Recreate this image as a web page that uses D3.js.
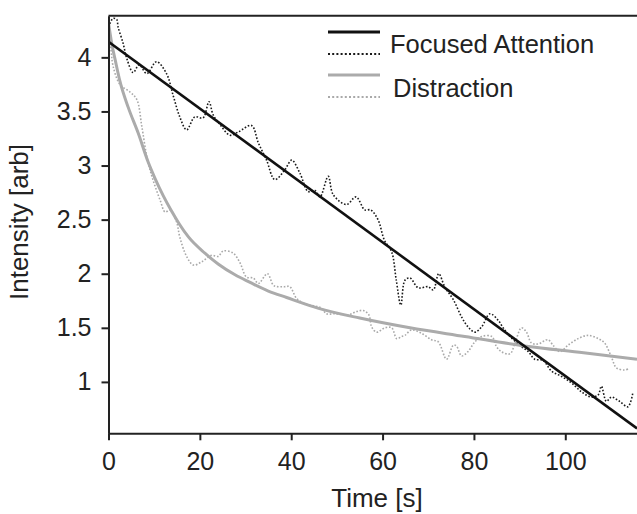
<!DOCTYPE html>
<html>
<head>
<meta charset="utf-8">
<script src="https://cdn.jsdelivr.net/npm/d3@7"></script>
<style>
  body { margin: 0; background: #fff; }
  svg { display: block; font-family: "Liberation Sans", Arial, sans-serif; }
</style>
</head>
<body>
<svg id="drawing_region"></svg>
<script>
// values: [time s, intensity]
const focusedFit = [[0, 4.144], [115.7, 0.57]];
const focusedRaw = [[0.3,4.31],[1,4.36],[1.8,4.35],[2.1,4.28],[3.2,4.13],[4,3.99],[5.4,3.86],[6.7,3.93],[8.4,3.85],
  [10.5,3.96],[12.7,3.85],[14.2,3.64],[15.6,3.45],[17.1,3.33],[18.9,3.45],[20.7,3.44],[22,3.59],[22.9,3.47],
  [24.4,3.38],[26.6,3.28],[28.4,3.31],[31.3,3.37],[32.8,3.21],[34.6,3.05],[36.4,2.87],[38.6,2.96],[40.1,3.05],
  [41.9,2.93],[43.7,2.76],[45.2,2.77],[46.3,2.71],[48.1,2.90],[49.2,2.73],[52.1,2.64],[54.2,2.71],[56.1,2.59],
  [57.4,2.59],[59,2.50],[60.4,2.31],[62,2.20],[63,1.94],[64,1.71],[64.9,1.94],[66,1.96],[67.8,1.87],[70,1.88],
  [71.1,1.85],[72.3,2.00],[73.6,1.88],[75.5,1.76],[77.3,1.60],[78.7,1.51],[80.2,1.46],[81.7,1.51],[83.5,1.63],
  [85.3,1.57],[86.4,1.50],[87.9,1.42],[90,1.34],[91.9,1.28],[93.3,1.21],[95.1,1.20],[97,1.10],[99.2,1.05],
  [101.4,0.99],[103.5,0.91],[105.7,0.86],[107.2,0.88],[107.9,0.96],[109,0.82],[110.1,0.86],[111.9,0.82],
  [113.7,0.77],[114.8,0.90]];
const distractionFit = [[0,4.32],[0.7,4.13],[1.5,3.97],[2.5,3.78],[4.3,3.54],[6.5,3.30],[8.7,3.03],[10.2,2.88],
  [12,2.72],[13.8,2.58],[15.5,2.46],[17.5,2.34],[21.1,2.19],[24,2.09],[27.7,1.99],[31,1.92],[35,1.84],[39,1.78],
  [46,1.68],[55,1.59],[66,1.50],[78,1.42],[91.5,1.33],[104,1.27],[115.7,1.21]];
const distractionRaw = [[0,4.32],[0.6,4.05],[1,3.92],[2.5,3.75],[4.7,3.68],[6.2,3.61],[7.3,3.36],[8.4,3.08],
  [9.5,2.90],[11.3,2.68],[12.4,2.57],[13.5,2.59],[14.9,2.48],[15.6,2.34],[17.1,2.16],[18.6,2.08],[20.4,2.11],
  [22.6,2.17],[24,2.16],[25.1,2.21],[27.3,2.19],[28.8,2.10],[30.2,1.97],[31.7,1.96],[32.8,1.91],[34.8,2.00],
  [36.2,1.89],[38.4,1.88],[39.7,1.88],[41.2,1.77],[43.2,1.72],[45.4,1.70],[46.7,1.68],[47.7,1.63],[49.6,1.63],
  [52.5,1.62],[54.3,1.65],[55.8,1.66],[57,1.62],[57.6,1.51],[58.7,1.46],[60.5,1.50],[62,1.50],[63.1,1.40],
  [64.2,1.42],[64.9,1.43],[66.3,1.48],[68.5,1.45],[70.7,1.39],[72.2,1.37],[74,1.21],[75.5,1.34],[76.2,1.33],
  [77.3,1.24],[78.7,1.28],[80.2,1.37],[81.7,1.42],[83.9,1.42],[84.9,1.33],[86,1.28],[87.9,1.26],[89,1.36],
  [90.4,1.50],[91.5,1.46],[92.6,1.36],[94,1.35],[96.2,1.39],[97.3,1.34],[98.8,1.28],[100.6,1.34],[102.8,1.40],
  [105,1.43],[107.2,1.40],[108.6,1.36],[110.1,1.23],[111.2,1.13],[113,1.11],[113.8,1.12]];
const xTicks = [0, 20, 40, 60, 80, 100];
const yTicks = [1, 1.5, 2, 2.5, 3, 3.5, 4];
const legendNames = ['Focused Attention', 'Distraction'];

const width = 637, height = 514;
const margin = {top: 15.7, right: 0, bottom: 80.7, left: 108.5};
const innerW = width - margin.left - margin.right;
const innerH = height - margin.top - margin.bottom;

const svg = d3.select('#drawing_region')
  .attr('width', width)
  .attr('height', height);

const chart = svg.append('g')
  .attr('transform', `translate(${margin.left}, ${margin.top})`);

const xscale = d3.scaleLinear().domain([0, 115.7]).range([0, innerW]);
const yscale = d3.scaleLinear().domain([0.525, 4.385]).range([innerH, 0]);

chart.append('clipPath').attr('id', 'clip')
  .append('rect').attr('width', innerW).attr('height', innerH);

const line = d3.line()
  .x(d => xscale(d[0]))
  .y(d => yscale(d[1]));
const rough = d3.line()
  .x(d => xscale(d[0]))
  .y(d => yscale(d[1]))
  .curve(d3.curveCatmullRom.alpha(0.5));
const smooth = d3.line()
  .x(d => xscale(d[0]))
  .y(d => yscale(d[1]))
  .curve(d3.curveMonotoneX);

const plot = chart.append('g').attr('clip-path', 'url(#clip)');

plot.append('path').datum(distractionRaw)
  .attr('d', rough).attr('fill', 'none')
  .attr('stroke', '#a9a9a9').attr('stroke-width', 1.6)
  .attr('stroke-dasharray', '1.6,1.8');
plot.append('path').datum(focusedRaw)
  .attr('d', rough).attr('fill', 'none')
  .attr('stroke', '#1a1a1a').attr('stroke-width', 1.6)
  .attr('stroke-dasharray', '1.6,1.8');
plot.append('path').datum(distractionFit)
  .attr('d', smooth).attr('fill', 'none')
  .attr('stroke', '#ababab').attr('stroke-width', 3);
plot.append('path').datum(focusedFit)
  .attr('d', line).attr('fill', 'none')
  .attr('stroke', '#111').attr('stroke-width', 2.6);

// axes
const xaxis = d3.axisBottom(xscale).tickValues(xTicks)
  .tickSize(7).tickSizeOuter(0).tickPadding(12).tickFormat(d => d);
const yaxis = d3.axisLeft(yscale).tickValues(yTicks)
  .tickSize(7).tickSizeOuter(0).tickPadding(10).tickFormat(d => d);

const xg = chart.append('g')
  .attr('transform', `translate(0, ${innerH})`)
  .call(xaxis);
const yg = chart.append('g').call(yaxis);

[xg, yg].forEach(g => {
  g.selectAll('path, line').attr('stroke', '#222').attr('stroke-width', 2);
  g.selectAll('text').attr('font-size', '25px').attr('fill', '#222')
    .attr('font-family', '"Liberation Sans", Arial, sans-serif');
});

// top frame line
chart.append('line')
  .attr('x1', 0).attr('x2', innerW)
  .attr('y1', 0).attr('y2', 0)
  .attr('stroke', '#222').attr('stroke-width', 2);

// axis titles
svg.append('text')
  .attr('x', 377).attr('y', 507)
  .attr('text-anchor', 'middle')
  .attr('font-size', '26px').attr('fill', '#222')
  .text('Time [s]');
svg.append('text')
  .attr('transform', 'translate(28, 222) rotate(-90)')
  .attr('text-anchor', 'middle')
  .attr('font-size', '26px').attr('fill', '#222')
  .text('Intensity [arb]');

// legend
const legend = svg.append('g').attr('transform', 'translate(328, 32)');
const legendStyles = [
  {color: '#111', raw: '#1a1a1a', dy: 0, tx: 62, ty: 21},
  {color: '#ababab', raw: '#a9a9a9', dy: 43, tx: 65, ty: 65}
];
legendNames.forEach((name, i) => {
  const s = legendStyles[i];
  legend.append('line')
    .attr('x1', 0).attr('x2', 52).attr('y1', s.dy).attr('y2', s.dy)
    .attr('stroke', s.color).attr('stroke-width', 3);
  legend.append('line')
    .attr('x1', 0).attr('x2', 52).attr('y1', s.dy + 22).attr('y2', s.dy + 22)
    .attr('stroke', s.raw).attr('stroke-width', 2.2)
    .attr('stroke-dasharray', '2,2.2');
  legend.append('text')
    .attr('x', s.tx).attr('y', s.ty)
    .attr('font-size', '25.5px').attr('fill', '#222')
    .text(name);
});
</script>
</body>
</html>
